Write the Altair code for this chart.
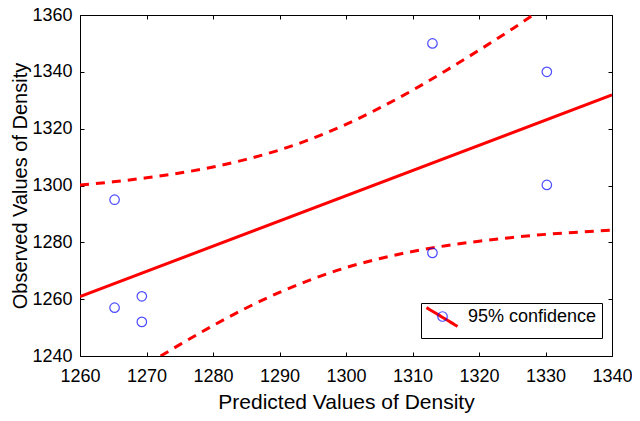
import altair as alt
import pandas as pd

# observed points (predicted, observed)
obs_x = [1265.2, 1265.2, 1269.3, 1269.3, 1313.0, 1313.0, 1330.2, 1330.2]
obs_y = [1295.0, 1257.0, 1261.0, 1252.0, 1350.0, 1276.3, 1340.0, 1300.2]

# 95% confidence band
band_x = [1260, 1265, 1270, 1275, 1280, 1285, 1290, 1295, 1300, 1305, 1310,
          1315, 1320, 1325, 1330, 1335, 1340]
band_upper = [1300.2, 1301.3, 1302.7, 1304.4, 1306.5, 1309.2, 1312.5, 1316.6,
              1321.5, 1327.2, 1333.5, 1340.4, 1347.6, 1355.1, 1363.0, 1371.0, 1379.1]
band_lower = [1221.6, 1229.4, 1236.9, 1244.0, 1250.7, 1256.9, 1262.4, 1267.1,
              1271.1, 1274.2, 1276.8, 1278.8, 1280.4, 1281.7, 1282.8, 1283.6, 1284.3]

x_ticks = [1260, 1270, 1280, 1290, 1300, 1310, 1320, 1330, 1340]
y_ticks = [1240, 1260, 1280, 1300, 1320, 1340, 1360]
band_label = "95% confidence"

FONT = "Liberation Sans"

pts = pd.DataFrame({"x": obs_x, "y": obs_y, "k": ["pt"] * len(obs_x)})
band = pd.DataFrame({
    "x": band_x * 2,
    "y": band_upper + band_lower,
    "side": ["upper"] * len(band_x) + ["lower"] * len(band_x),
    "label": [band_label] * (2 * len(band_x)),
})

xs = alt.Scale(domain=[1260, 1340], nice=False, zero=False)
ys = alt.Scale(domain=[1240, 1360], nice=False, zero=False)

common_axis = dict(offset=-4, tickSize=4, domain=False, grid=False, format="d",
                   tickColor="black", labelColor="black", titleColor="black",
                   labelFont=FONT, titleFont=FONT, labelFontSize=18,
                   titleFontWeight="normal")

x_axis = alt.Axis(values=x_ticks, title="Predicted Values of Density",
                  labelPadding=11, titlePadding=6, titleFontSize=21,
                  labelFlush=False, **common_axis)
y_axis = alt.Axis(values=y_ticks, title="Observed Values of Density",
                  labelPadding=8, titlePadding=1, titleFontSize=20,
                  labelFlush=False, **common_axis)
x_top = alt.Axis(values=x_ticks, orient="top", labels=False, title=None,
                 offset=-4, tickSize=4, domain=False, grid=False, tickColor="black")
y_right = alt.Axis(values=y_ticks, orient="right", labels=False, title=None,
                   offset=-4, tickSize=4, domain=False, grid=False, tickColor="black")

band_layer = alt.Chart(band).mark_line(
    strokeWidth=3, strokeDash=[9, 7], clip=True, interpolate="monotone"
).encode(
    x=alt.X("x:Q", scale=xs, axis=None),
    y=alt.Y("y:Q", scale=ys, axis=None),
    detail="side:N",
    color=alt.Color("label:N", scale=alt.Scale(domain=[band_label], range=["#ff0000"]),
                    legend=alt.Legend(
                        title=None, orient="none", legendX=341, legendY=288,
                        symbolType="M-2.07,-1.25L2.07,1.25", symbolSize=225,
                        symbolStrokeWidth=3, symbolDash=[1, 0], symbolOffset=7,
                        labelFont=FONT, labelFontSize=18, labelColor="black",
                        labelOffset=17, padding=5, strokeColor="black",
                        fillColor="white", zindex=1)),
)

fit_layer = alt.Chart(pts).transform_regression(
    "x", "y", extent=[1260, 1340]
).mark_line(strokeWidth=3, color="#ff0000", clip=True).encode(
    x=alt.X("x:Q", scale=xs, axis=None),
    y=alt.Y("y:Q", scale=ys, axis=None),
)

point_layer = alt.Chart(pts).mark_point(
    filled=False, size=90, strokeWidth=1.2, color="#0000ff"
).encode(
    x=alt.X("x:Q", scale=xs, axis=x_axis),
    y=alt.Y("y:Q", scale=ys, axis=y_axis),
    shape=alt.Shape("k:N", scale=alt.Scale(domain=["pt"], range=["circle"]),
                    legend=alt.Legend(
                        title=None, orient="none", legendX=357, legendY=296,
                        symbolSize=90, symbolFillColor="white",
                        symbolStrokeColor="#0000ff", symbolStrokeWidth=1.2,
                        labelExpr="''", padding=0, zindex=2)),
)

frame_layer = alt.Chart(pts).mark_point(opacity=0).encode(
    x=alt.X("x:Q", scale=xs, axis=x_top),
    y=alt.Y("y:Q", scale=ys, axis=y_right),
)

chart = alt.layer(band_layer, fit_layer, point_layer, frame_layer).resolve_axis(
    x="independent", y="independent"
).properties(
    width=532, height=341,
    padding={"left": 72, "top": 7, "right": 20, "bottom": 57},
    autosize=alt.AutoSizeParams(type="none"),
    background="white",
).configure_view(stroke="black", strokeWidth=1)

chart.save("out.html", embed_options={"renderer": "svg", "actions": False})
